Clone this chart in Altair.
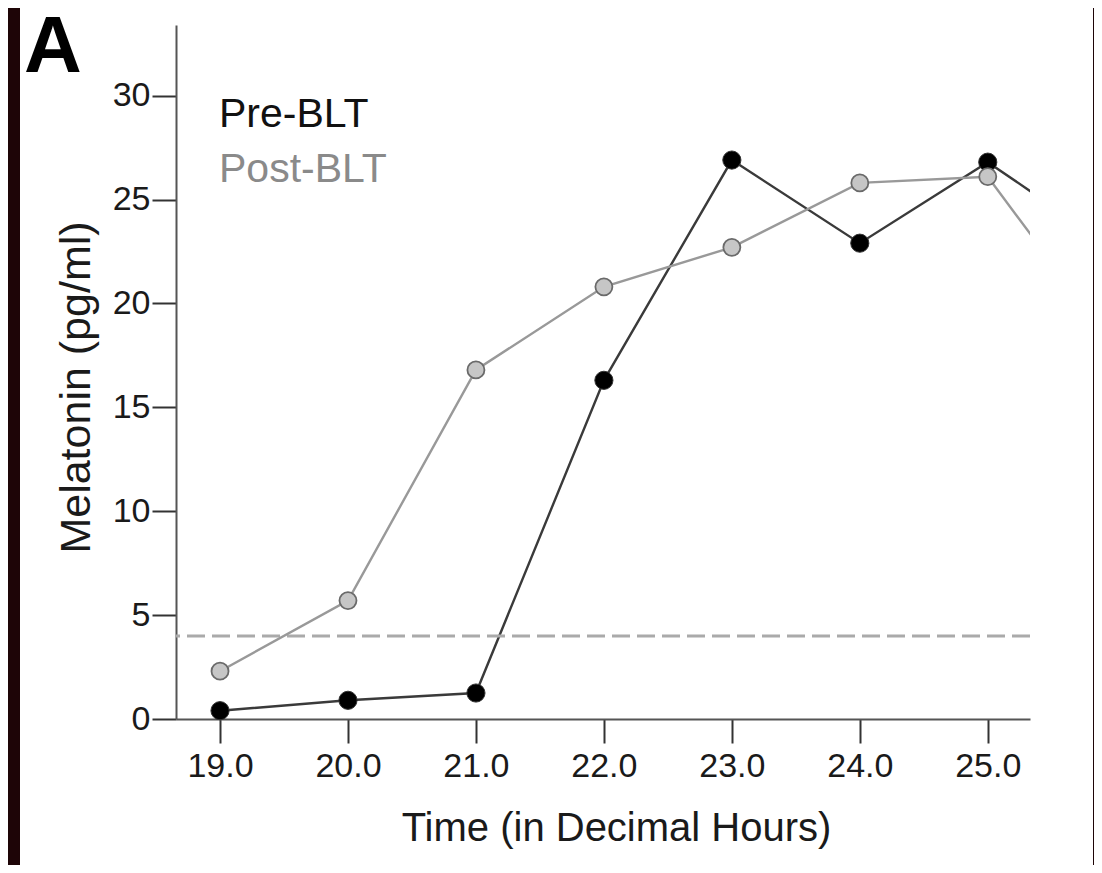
import altair as alt
import pandas as pd

# ---- data ----
times = [19.0, 20.0, 21.0, 22.0, 23.0, 24.0, 25.0]
pre_blt = [0.4, 0.9, 1.25, 16.3, 26.9, 22.9, 26.8]
post_blt = [2.3, 5.7, 16.8, 20.8, 22.7, 25.8, 26.1]
# next sample beyond the visible axis (lines run off the right edge)
next_time = [26.0]
pre_next = [22.6]
post_next = [17.8]
threshold = [4.0]
series_names = ["Pre-BLT", "Post-BLT"]
x_ticks = [19.0, 20.0, 21.0, 22.0, 23.0, 24.0, 25.0]
y_ticks = [0, 5, 10, 15, 20, 25, 30]
panel_label = ["A"]

rows = []
for t, v in zip(times + next_time, pre_blt + pre_next):
    rows.append({"time": t, "value": v, "series": "Pre-BLT", "shown": t <= 25.0})
for t, v in zip(times + next_time, post_blt + post_next):
    rows.append({"time": t, "value": v, "series": "Post-BLT", "shown": t <= 25.0})
df = pd.DataFrame(rows)

FONT = "Liberation Sans"
W, H = 854, 694

xscale = alt.Scale(domain=[18.656, 25.33], nice=False, zero=False)
yscale = alt.Scale(domain=[0, 33.4], nice=False, zero=False)

x_axis = alt.Axis(
    values=x_ticks, format=".1f", title="Time (in Decimal Hours)",
    titleX=440, titleY=121, titleBaseline="alphabetic",
)
y_axis = alt.Axis(
    values=y_ticks, format="d", title="Melatonin (pg/ml)",
    titleAngle=270, titleX=-87, titleY=362, titleBaseline="alphabetic",
    titleFontSize=43,
)
x_enc = alt.X("time:Q", scale=xscale, axis=x_axis)
y_enc = alt.Y("value:Q", scale=yscale, axis=y_axis)

base = alt.Chart(df)

# dark frame strips at the left and right edges of the picture
frame = alt.Chart(alt.Data(values=[{"k": 1}]))
left_strip = frame.mark_rect(color="#1e0507").encode(
    x=alt.value(-170), x2=alt.value(-156), y=alt.value(-20), y2=alt.value(850)
)
right_strip = frame.mark_rect(color="#1e0507").encode(
    x=alt.value(917), x2=alt.value(930), y=alt.value(-20), y2=alt.value(850)
)

thresh_df = pd.DataFrame({"value": threshold})
rule = alt.Chart(thresh_df).mark_rule(
    color="#aaaaaa", strokeWidth=3, strokeDash=[18, 7]
).encode(y=y_enc)

pre_line = base.transform_filter(alt.datum.series == "Pre-BLT").mark_line(
    color="#3a3a3a", strokeWidth=2.4, clip=True
).encode(x=x_enc, y=y_enc)
pre_pts = base.transform_filter(
    (alt.datum.series == "Pre-BLT") & alt.datum.shown
).mark_point(
    shape="circle", filled=True, size=330, fill="#000000", stroke="#333333",
    strokeWidth=1, opacity=1
).encode(x=x_enc, y=y_enc)

post_line = base.transform_filter(alt.datum.series == "Post-BLT").mark_line(
    color="#999999", strokeWidth=2.4, clip=True
).encode(x=x_enc, y=y_enc)
post_pts = base.transform_filter(
    (alt.datum.series == "Post-BLT") & alt.datum.shown
).mark_point(
    shape="circle", filled=True, size=290, fill="#c6c6c6", stroke="#6a6a6a",
    strokeWidth=1.8, opacity=1
).encode(x=x_enc, y=y_enc)

legend_df = pd.DataFrame({"name": series_names, "col": ["#111111", "#8a8a8a"], "ypix": [102, 157]})
legend_txt = alt.Chart(legend_df).mark_text(
    align="left", baseline="alphabetic", font=FONT, fontSize=41
).encode(
    text="name:N",
    x=alt.value(43),
    y=alt.Y("ypix:Q", scale=None),
    color=alt.Color("col:N", scale=None),
)

label_df = pd.DataFrame({"lab": panel_label})
label_txt = alt.Chart(label_df).mark_text(
    align="left", baseline="alphabetic", font=FONT, fontSize=80, fontWeight="bold",
    color="#000000"
).encode(text="lab:N", x=alt.value(-152), y=alt.value(47))

chart = alt.layer(
    pre_line, rule, pre_pts, post_line, post_pts, legend_txt, label_txt,
    left_strip, right_strip
).properties(
    width=W, height=H,
    autosize=alt.AutoSizeParams(type="none"),
    padding={"left": 168, "top": 17, "right": 64, "bottom": 146},
    background="white",
).configure_view(
    stroke=None
).configure_axis(
    grid=False,
    domainColor="#555555", domainWidth=2,
    tickColor="#333333", tickWidth=2, tickSize=24,
    labelFont=FONT, labelFontSize=34, labelColor="#1a1a1a", labelPadding=4,
    titleFont=FONT, titleFontSize=40, titleFontWeight="normal", titleColor="#1a1a1a",
).configure_axisX(
    labelPadding=6
).configure_axisY(
    labelPadding=2
)

chart.save("out.html", embed_options={"renderer": "svg", "actions": False})
